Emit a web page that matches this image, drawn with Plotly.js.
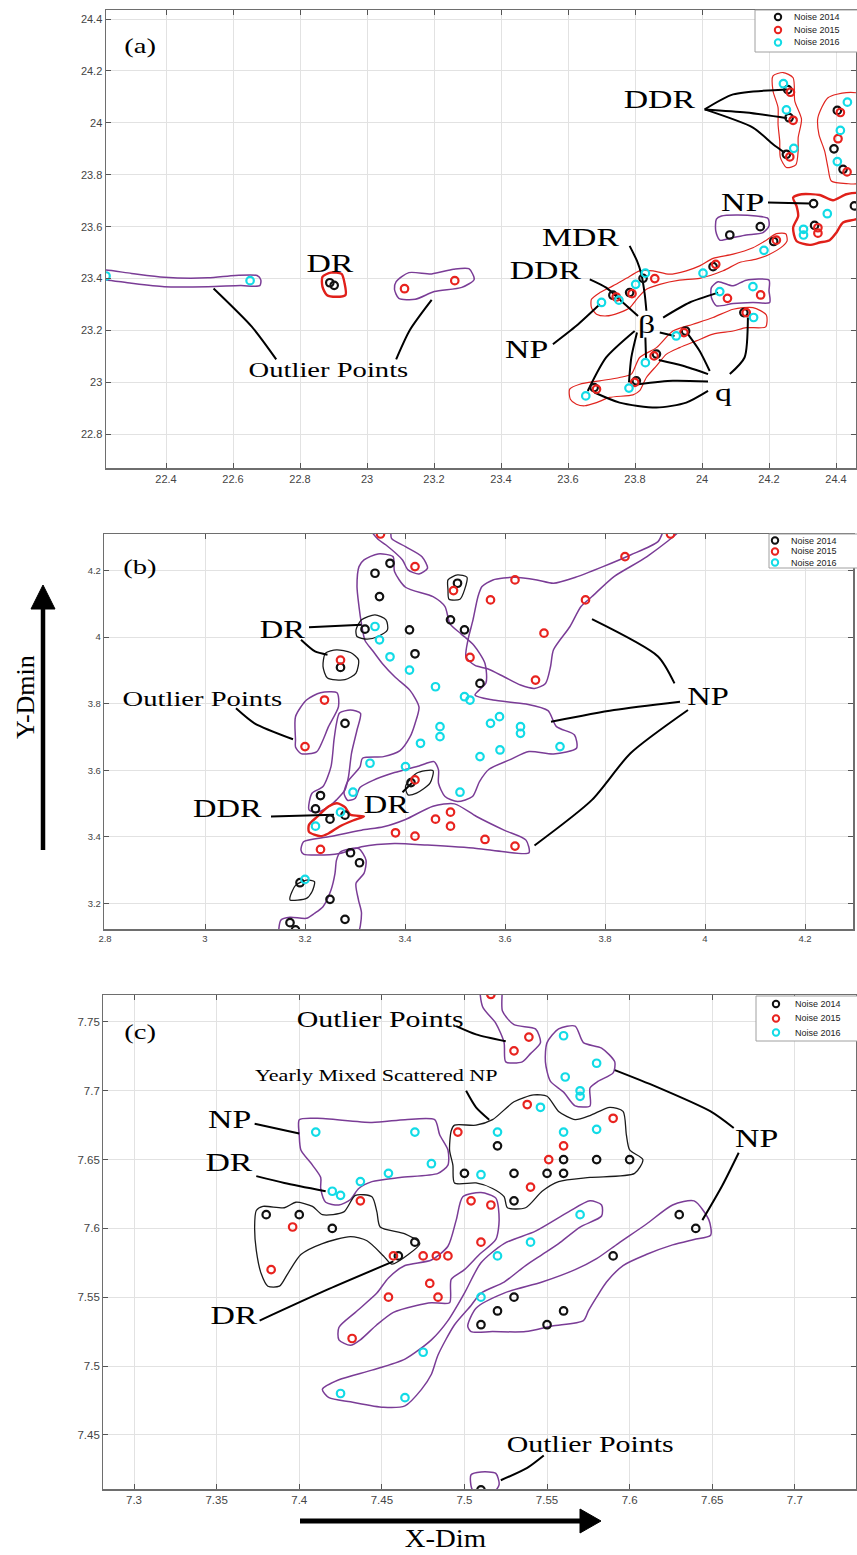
<!DOCTYPE html>
<html><head><meta charset="utf-8">
<script src="https://cdn.plot.ly/plotly-3.0.1.min.js"></script>
<style>html,body{margin:0;padding:0;background:#fff;overflow:hidden}#chart{width:857px;height:1555px}</style>
</head><body><div id="chart"></div>
<script>
const seriesNames = ['Noise 2014','Noise 2015','Noise 2016'];

// ---------- panel (a) ----------
const a2014 = [[22.889,23.384],[22.902,23.374],[24.256,24.128],[24.26,24.02],[24.252,23.879],[24.404,24.048],[24.394,23.90],[24.421,23.821],[24.333,23.689],[24.455,23.68],[24.336,23.605],[24.083,23.568],[24.174,23.60],[24.214,23.543],[24.033,23.446],[23.824,23.401],[23.784,23.346],[23.734,23.336],[24.125,23.269],[23.951,23.198],[23.864,23.109],[23.804,23.006],[23.678,22.98]];
const a2015 = [[23.112,23.361],[23.262,23.392],[24.264,24.118],[24.272,24.01],[24.262,23.869],[24.413,24.04],[24.406,23.939],[24.433,23.811],[24.346,23.596],[24.346,23.575],[24.222,23.548],[24.041,23.455],[23.859,23.40],[23.791,23.342],[23.744,23.329],[24.076,23.324],[24.175,23.337],[24.132,23.269],[23.946,23.192],[23.857,23.102],[23.799,23.0],[23.685,22.974]];
const a2016 = [[22.221,23.41],[22.651,23.392],[24.243,24.151],[24.252,24.05],[24.274,23.902],[24.434,24.08],[24.413,23.971],[24.404,23.851],[24.374,23.65],[24.303,23.59],[24.303,23.568],[24.185,23.509],[24.003,23.421],[23.831,23.421],[23.802,23.378],[23.752,23.317],[23.70,23.308],[24.053,23.35],[24.152,23.369],[24.154,23.25],[23.923,23.179],[23.831,23.076],[23.782,22.978],[23.653,22.948]];
const aPurple = [
 [[22.19,23.433],[22.221,23.433],[22.297,23.42],[22.395,23.405],[22.525,23.403],[22.607,23.412],[22.672,23.412],[22.683,23.395],[22.68,23.373],[22.623,23.373],[22.525,23.369],[22.395,23.369],[22.297,23.382],[22.221,23.395],[22.19,23.395]],
 [[23.087,23.388],[23.125,23.423],[23.193,23.418],[23.258,23.436],[23.304,23.438],[23.32,23.397],[23.283,23.366],[23.201,23.35],[23.144,23.32],[23.095,23.324],[23.082,23.359]],
 [[24.043,23.629],[24.058,23.641],[24.102,23.645],[24.162,23.641],[24.197,23.632],[24.2,23.603],[24.182,23.577],[24.132,23.568],[24.093,23.558],[24.053,23.548],[24.041,23.584]],
 [[24.028,23.365],[24.048,23.388],[24.093,23.372],[24.132,23.394],[24.2,23.394],[24.2,23.353],[24.202,23.308],[24.152,23.308],[24.093,23.304],[24.043,23.295],[24.028,23.327]]
];
const aRed = [
 [[24.212,24.181],[24.242,24.194],[24.272,24.174],[24.277,24.084],[24.297,24.014],[24.287,23.943],[24.287,23.892],[24.28,23.838],[24.252,23.828],[24.234,23.866],[24.232,23.93],[24.227,23.995],[24.227,24.059],[24.212,24.123]],
 [[24.346,24.02],[24.376,24.097],[24.431,24.117],[24.47,24.11],[24.47,23.77],[24.431,23.766],[24.386,23.776],[24.376,23.828],[24.366,23.892],[24.349,23.956]],
 [[23.67,23.32],[23.695,23.346],[23.734,23.372],[23.774,23.401],[23.814,23.43],[23.854,23.43],[23.903,23.417],[23.953,23.43],[23.993,23.449],[24.033,23.478],[24.093,23.494],[24.152,23.519],[24.192,23.548],[24.222,23.573],[24.25,23.573],[24.254,23.545],[24.242,23.526],[24.202,23.494],[24.162,23.475],[24.112,23.462],[24.063,23.43],[23.993,23.401],[23.933,23.394],[23.874,23.378],[23.834,23.359],[23.809,23.327],[23.784,23.288],[23.754,23.269],[23.714,23.256],[23.685,23.263],[23.67,23.288]],
 [[23.605,22.974],[23.635,22.993],[23.695,23.006],[23.754,23.019],[23.789,23.032],[23.814,23.096],[23.864,23.134],[23.913,23.198],[23.973,23.224],[24.033,23.25],[24.093,23.282],[24.152,23.288],[24.192,23.26],[24.19,23.214],[24.132,23.211],[24.093,23.198],[24.033,23.186],[23.983,23.16],[23.933,23.134],[23.894,23.109],[23.864,23.064],[23.834,23.019],[23.814,22.968],[23.794,22.952],[23.724,22.942],[23.685,22.922],[23.65,22.91],[23.625,22.916],[23.607,22.935]]
];
const aRedThick = [
 [[22.867,23.407],[22.892,23.423],[22.924,23.418],[22.933,23.382],[22.936,23.337],[22.908,23.33],[22.88,23.337],[22.867,23.369]],
 [[24.272,23.712],[24.297,23.725],[24.351,23.722],[24.391,23.702],[24.431,23.725],[24.47,23.727],[24.47,23.635],[24.421,23.616],[24.401,23.577],[24.381,23.548],[24.351,23.539],[24.321,23.53],[24.282,23.545],[24.272,23.596],[24.287,23.641],[24.282,23.68]]
];
const aBlack = [];
const aLeaders = [
 [[24.008,24.052],[24.093,24.11],[24.254,24.129]],
 [[24.008,24.052],[24.132,24.04],[24.254,24.018]],
 [[24.008,24.052],[24.152,23.982],[24.212,23.918],[24.247,23.885]],
 [[24.197,23.693],[24.321,23.689]],
 [[23.784,23.526],[23.806,23.468],[23.819,23.417],[23.829,23.34],[23.834,23.276]],
 [[23.665,23.397],[23.714,23.365],[23.764,23.308],[23.809,23.256]],
 [[23.555,23.147],[23.625,23.218],[23.695,23.301]],
 [[23.884,23.25],[23.963,23.308],[24.048,23.346]],
 [[23.799,23.198],[23.714,23.096],[23.659,22.967]],
 [[23.806,23.192],[23.789,23.096],[23.782,23.0]],
 [[23.831,23.173],[23.833,23.089]],
 [[23.874,23.192],[23.918,23.179]],
 [[24.018,22.967],[23.953,22.922],[23.864,22.903],[23.754,22.922],[23.679,22.961]],
 [[24.018,23.003],[23.913,23.006],[23.809,22.993]],
 [[24.018,23.032],[23.943,23.064],[23.871,23.086]],
 [[24.023,23.044],[23.993,23.121],[23.958,23.186]],
 [[24.083,23.032],[24.127,23.096],[24.137,23.25]],
 [[22.729,23.089],[22.656,23.215],[22.542,23.362]],
 [[23.087,23.089],[23.128,23.202],[23.193,23.318]]
];
const aLabels = [['(a)',22.322,24.3],['DDR',23.874,24.091],['NP',24.122,23.693],['MDR',23.64,23.558],['DDR',23.535,23.43],['NP',23.476,23.128],['β',23.834,23.224],['q',24.063,22.961],['DR',22.892,23.459],['Outlier Points',22.884,23.048]];

// ---------- panel (b) ----------
const b2014 = [[3.37,4.222],[3.34,4.192],[3.349,4.122],[3.505,4.162],[3.491,4.052],[3.519,4.022],[3.32,4.024],[3.409,4.022],[3.42,3.95],[3.271,3.909],[3.55,3.861],[3.28,3.741],[3.412,3.563],[3.231,3.524],[3.221,3.484],[3.28,3.465],[3.25,3.453],[3.291,3.352],[3.309,3.322],[3.19,3.262],[3.25,3.212],[3.28,3.152],[3.17,3.142],[3.181,3.12]];
const b2015 = [[3.351,4.31],[3.42,4.212],[3.497,4.14],[3.571,4.112],[3.62,4.172],[3.761,4.112],[3.84,4.242],[3.931,4.31],[3.678,4.012],[3.661,3.871],[3.53,3.939],[3.271,3.931],[3.239,3.811],[3.2,3.671],[3.42,3.571],[3.491,3.474],[3.461,3.453],[3.491,3.432],[3.381,3.412],[3.42,3.402],[3.56,3.392],[3.62,3.372],[3.231,3.362]];
const b2016 = [[3.34,4.032],[3.349,3.992],[3.37,3.941],[3.409,3.901],[3.461,3.851],[3.519,3.821],[3.53,3.811],[3.589,3.761],[3.571,3.741],[3.631,3.731],[3.631,3.711],[3.47,3.731],[3.47,3.701],[3.431,3.681],[3.71,3.671],[3.59,3.661],[3.55,3.641],[3.33,3.621],[3.401,3.611],[3.296,3.534],[3.51,3.534],[3.271,3.474],[3.221,3.432],[3.2,3.272]];
const bPurple = [
 [[3.329,4.33],[3.346,4.294],[3.362,4.277],[3.395,4.232],[3.406,4.202],[3.428,4.19],[3.445,4.207],[3.434,4.242],[3.401,4.272],[3.373,4.297],[3.37,4.33]],
 [[3.955,4.33],[3.884,4.242],[3.818,4.182],[3.774,4.122],[3.752,4.092],[3.73,4.032],[3.697,3.962],[3.691,3.911],[3.681,3.861],[3.659,3.846],[3.631,3.856],[3.598,3.881],[3.565,3.905],[3.54,3.915],[3.522,3.94],[3.526,3.992],[3.536,4.052],[3.546,4.122],[3.554,4.152],[3.576,4.172],[3.62,4.18],[3.664,4.172],[3.697,4.162],[3.741,4.18],[3.796,4.212],[3.851,4.247],[3.906,4.287],[3.922,4.33]],
 [[3.308,4.212],[3.318,4.232],[3.346,4.25],[3.376,4.242],[3.379,4.197],[3.401,4.15],[3.456,4.122],[3.48,4.092],[3.49,4.04],[3.512,4.01],[3.538,3.975],[3.56,3.921],[3.562,3.863],[3.54,3.826],[3.576,3.811],[3.642,3.799],[3.686,3.779],[3.703,3.731],[3.739,3.706],[3.743,3.666],[3.697,3.649],[3.648,3.656],[3.609,3.631],[3.568,3.603],[3.549,3.566],[3.535,3.521],[3.505,3.506],[3.48,3.521],[3.467,3.561],[3.467,3.601],[3.458,3.626],[3.428,3.613],[3.379,3.593],[3.335,3.569],[3.31,3.548],[3.3,3.515],[3.285,3.51],[3.278,3.531],[3.285,3.565],[3.31,3.61],[3.315,3.636],[3.357,3.641],[3.39,3.659],[3.41,3.7],[3.42,3.74],[3.428,3.79],[3.41,3.84],[3.38,3.88],[3.355,3.92],[3.335,3.96],[3.32,3.99],[3.313,4.04],[3.308,4.092],[3.304,4.152]],
 [[3.181,3.691],[3.181,3.761],[3.203,3.811],[3.231,3.833],[3.264,3.833],[3.267,3.791],[3.247,3.731],[3.236,3.691],[3.223,3.655],[3.192,3.65],[3.181,3.67]],
 [[3.269,3.772],[3.291,3.781],[3.311,3.771],[3.304,3.721],[3.293,3.651],[3.287,3.581],[3.28,3.541],[3.263,3.511],[3.252,3.496],[3.225,3.474],[3.208,3.481],[3.214,3.531],[3.236,3.551],[3.252,3.611],[3.258,3.691],[3.263,3.741]],
 [[3.192,3.36],[3.197,3.385],[3.247,3.4],[3.313,3.42],[3.357,3.43],[3.401,3.452],[3.456,3.492],[3.499,3.499],[3.543,3.461],[3.598,3.42],[3.642,3.39],[3.648,3.352],[3.598,3.355],[3.543,3.365],[3.445,3.375],[3.379,3.38],[3.313,3.37],[3.269,3.35],[3.225,3.345],[3.197,3.348]],
 [[3.271,3.355],[3.307,3.365],[3.322,3.33],[3.318,3.29],[3.302,3.26],[3.307,3.21],[3.313,3.17],[3.302,3.1],[3.15,3.1],[3.152,3.15],[3.17,3.158],[3.203,3.155],[3.219,3.17],[3.236,3.19],[3.252,3.24],[3.26,3.29],[3.263,3.33]]
];
const bRed = [];
const bRedThick = [
 [[3.208,3.436],[3.225,3.461],[3.247,3.491],[3.264,3.501],[3.28,3.489],[3.291,3.466],[3.318,3.461],[3.296,3.449],[3.269,3.431],[3.247,3.41],[3.231,3.402],[3.208,3.415]]
];
const bBlack = [
 [[3.486,4.172],[3.505,4.187],[3.524,4.18],[3.519,4.142],[3.51,4.114],[3.488,4.114],[3.486,4.142]],
 [[3.302,4.022],[3.313,4.052],[3.34,4.067],[3.362,4.052],[3.365,4.022],[3.346,4.002],[3.324,3.994],[3.304,4.002]],
 [[3.241,3.952],[3.263,3.962],[3.291,3.954],[3.307,3.932],[3.302,3.892],[3.28,3.872],[3.245,3.877],[3.236,3.912]],
 [[3.401,3.551],[3.423,3.591],[3.456,3.599],[3.45,3.561],[3.423,3.531],[3.406,3.526]],
 [[3.17,3.219],[3.181,3.254],[3.203,3.27],[3.219,3.265],[3.214,3.235],[3.203,3.215],[3.17,3.21]]
];
const bLeaders = [
 [[3.208,4.03],[3.313,4.037]],
 [[3.192,3.992],[3.22,3.957],[3.245,3.947]],
 [[3.062,3.786],[3.099,3.741],[3.176,3.693]],
 [[3.939,3.861],[3.906,3.942],[3.774,4.054]],
 [[3.95,3.806],[3.818,3.781],[3.692,3.746]],
 [[3.966,3.781],[3.851,3.651],[3.774,3.511],[3.659,3.374]],
 [[3.132,3.461],[3.258,3.466]],
 [[3.395,3.534],[3.414,3.562]]
];
const bLabels = [['(b)',2.87,4.212],['DR',3.154,4.022],['Outlier Points',2.994,3.816],['NP',4.005,3.821],['DDR',3.044,3.486],['DR',3.362,3.496]];

// ---------- panel (c) ----------
const c2014 = [[7.52,7.66],[7.56,7.65],[7.58,7.65],[7.60,7.65],[7.50,7.64],[7.53,7.64],[7.55,7.64],[7.56,7.64],[7.53,7.62],[7.38,7.61],[7.40,7.61],[7.42,7.60],[7.47,7.59],[7.46,7.58],[7.63,7.61],[7.64,7.60],[7.59,7.58],[7.53,7.55],[7.52,7.54],[7.56,7.54],[7.51,7.53],[7.55,7.53],[7.51,7.41]];
const c2015 = [[7.516,7.77],[7.539,7.739],[7.53,7.729],[7.538,7.69],[7.59,7.68],[7.496,7.67],[7.56,7.66],[7.551,7.65],[7.54,7.63],[7.437,7.62],[7.504,7.62],[7.516,7.617],[7.396,7.601],[7.51,7.59],[7.457,7.58],[7.475,7.58],[7.483,7.58],[7.49,7.58],[7.479,7.56],[7.454,7.55],[7.484,7.55],[7.383,7.57],[7.432,7.52]];
const c2016 = [[7.56,7.74],[7.58,7.72],[7.561,7.71],[7.57,7.70],[7.57,7.696],[7.546,7.688],[7.41,7.67],[7.47,7.67],[7.52,7.67],[7.56,7.67],[7.58,7.672],[7.48,7.647],[7.454,7.64],[7.51,7.639],[7.437,7.634],[7.42,7.627],[7.425,7.624],[7.57,7.61],[7.54,7.59],[7.52,7.58],[7.51,7.55],[7.475,7.51],[7.425,7.48],[7.464,7.477]];
const cPurple = [
 [[7.51,7.78],[7.522,7.78],[7.523,7.758],[7.53,7.748],[7.543,7.745],[7.546,7.735],[7.54,7.727],[7.535,7.721],[7.525,7.721],[7.524,7.735],[7.519,7.749],[7.511,7.761]],
 [[7.55,7.735],[7.557,7.745],[7.567,7.747],[7.572,7.735],[7.583,7.731],[7.591,7.721],[7.59,7.713],[7.581,7.707],[7.576,7.702],[7.576,7.689],[7.567,7.689],[7.56,7.699],[7.552,7.707],[7.549,7.721]],
 [[7.40,7.679],[7.411,7.68],[7.444,7.677],[7.464,7.679],[7.482,7.679],[7.485,7.668],[7.49,7.657],[7.49,7.646],[7.484,7.64],[7.461,7.637],[7.444,7.634],[7.436,7.629],[7.431,7.621],[7.424,7.617],[7.416,7.619],[7.413,7.629],[7.413,7.637],[7.408,7.646],[7.401,7.657],[7.40,7.668]],
 [[7.424,7.528],[7.434,7.539],[7.447,7.553],[7.454,7.564],[7.464,7.573],[7.48,7.577],[7.49,7.587],[7.495,7.606],[7.499,7.623],[7.51,7.626],[7.519,7.622],[7.521,7.606],[7.519,7.592],[7.509,7.581],[7.50,7.57],[7.492,7.563],[7.491,7.546],[7.48,7.546],[7.471,7.544],[7.457,7.539],[7.447,7.53],[7.437,7.519],[7.431,7.515],[7.424,7.519]],
 [[7.414,7.483],[7.424,7.49],[7.444,7.497],[7.464,7.505],[7.48,7.519],[7.49,7.533],[7.50,7.553],[7.51,7.575],[7.524,7.589],[7.543,7.598],[7.563,7.612],[7.576,7.62],[7.583,7.617],[7.583,7.609],[7.57,7.601],[7.557,7.589],[7.547,7.581],[7.537,7.573],[7.524,7.561],[7.51,7.553],[7.504,7.544],[7.494,7.53],[7.484,7.508],[7.48,7.494],[7.474,7.483],[7.464,7.471],[7.451,7.47],[7.431,7.474],[7.418,7.477]],
 [[7.502,7.529],[7.507,7.542],[7.524,7.553],[7.547,7.561],[7.567,7.57],[7.58,7.578],[7.593,7.589],[7.61,7.603],[7.626,7.617],[7.639,7.62],[7.648,7.606],[7.649,7.595],[7.639,7.592],[7.626,7.588],[7.61,7.581],[7.596,7.573],[7.586,7.561],[7.58,7.55],[7.575,7.54],[7.572,7.533],[7.553,7.529],[7.537,7.525],[7.517,7.525],[7.504,7.525]],
 [[7.504,7.421],[7.51,7.423],[7.519,7.422],[7.521,7.414],[7.519,7.41],[7.505,7.41]]
];
const cRed = [];
const cRedThick = [];
const cBlack = [
 [[7.492,7.671],[7.494,7.675],[7.507,7.675],[7.517,7.679],[7.53,7.692],[7.542,7.697],[7.55,7.696],[7.557,7.685],[7.567,7.679],[7.576,7.682],[7.588,7.688],[7.596,7.685],[7.598,7.668],[7.60,7.657],[7.608,7.65],[7.603,7.64],[7.576,7.637],[7.557,7.634],[7.547,7.627],[7.537,7.615],[7.526,7.615],[7.524,7.623],[7.517,7.629],[7.507,7.633],[7.494,7.633],[7.493,7.646],[7.491,7.657]],
 [[7.374,7.613],[7.378,7.616],[7.391,7.615],[7.398,7.619],[7.408,7.616],[7.414,7.61],[7.427,7.612],[7.434,7.624],[7.444,7.623],[7.447,7.612],[7.449,7.601],[7.464,7.596],[7.473,7.589],[7.466,7.581],[7.456,7.574],[7.451,7.58],[7.441,7.591],[7.431,7.594],[7.414,7.589],[7.401,7.581],[7.393,7.567],[7.388,7.558],[7.381,7.558],[7.377,7.567],[7.374,7.584],[7.373,7.601]]
];
const cLeaders = [
 [[7.495,7.747],[7.507,7.741],[7.525,7.736]],
 [[7.501,7.70],[7.507,7.688],[7.515,7.679]],
 [[7.373,7.676],[7.40,7.669]],
 [[7.374,7.638],[7.391,7.633],[7.416,7.627]],
 [[7.376,7.533],[7.418,7.556],[7.457,7.576]],
 [[7.663,7.673],[7.649,7.685],[7.616,7.703],[7.591,7.715]],
 [[7.666,7.655],[7.656,7.631],[7.644,7.606]],
 [[7.548,7.435],[7.538,7.426],[7.522,7.417]]
];
const cLabels = [['(c)',7.3034,7.743],['Outlier Points',7.449,7.752],['Yearly Mixed Scattered NP',7.447,7.711],['NP',7.358,7.679],['DR',7.358,7.648],['DR',7.361,7.537],['NP',7.677,7.665],['Outlier Points',7.576,7.443]];

// ---------- layout geometry (pixels) ----------
const W = 857, H = 1555;
const px = v => v / W, py = v => 1 - v / H;
const panels = [
 {k:'', xr:[22.22,24.4597], yr:[22.669,24.435], xpx:[105.7,856], ypx:[10,468.3], t0x:22.4, dx:0.2, t0y:22.8, dy:0.2, fs:11,
  pts:[a2014,a2015,a2016], purple:aPurple, red:aRed, redThick:aRedThick, black:aBlack, leaders:aLeaders, labels:aLabels,
  big:26, small:22, leg:{x0:755, y0:10, y1:52, mx:778, tx:792, rows:[17,30,42.5]}},
 {k:'2', xr:[2.798,4.2966], yr:[3.122,4.31], xpx:[104,853.3], ypx:[534,929.3], t0x:2.8, dx:0.2, t0y:3.2, dy:0.2, fs:9.5,
  pts:[b2014,b2015,b2016], purple:bPurple, red:bRed, redThick:bRedThick, black:bBlack, leaders:bLeaders, labels:bLabels,
  big:25, small:22, leg:{x0:769, y0:534, y1:568, mx:775, tx:789, rows:[540.5,551.5,562.5]}},
 {k:'3', xr:[7.2814,7.737], yr:[7.4104,7.7696], xpx:[103.3,856], ypx:[995,1489.3], t0x:7.3, dx:0.05, t0y:7.45, dy:0.05, fs:11.5,
  pts:[c2014,c2015,c2016], purple:cPurple, red:cRed, redThick:cRedThick, black:cBlack, leaders:cLeaders, labels:cLabels,
  big:26, small:23, leg:{x0:756, y0:996, y1:1041, mx:776, tx:793, rows:[1004,1018.5,1032.5]}}
];
const colors = ['#111111','#e8231f','#12dbe6'];
const traces = [], annotations = [], shapes = [];
const layout = { width: W, height: H, autosize:false, margin:{l:0,r:0,t:0,b:0},
  paper_bgcolor:'#fff', plot_bgcolor:'#fff', showlegend:false };
function closed(p){ return p.concat([p[0]]); }
function addLines(list, xa, ya, color, width, close){
  list.forEach(p => {
    const q = close ? closed(p) : p;
    traces.push({type:'scatter', mode:'lines', x:q.map(v=>v[0]), y:q.map(v=>v[1]), xaxis:xa, yaxis:ya,
      line:{color:color, width:width, shape:'spline', smoothing:0.7}, hoverinfo:'skip', showlegend:false});
  });
}
const serif = 'Liberation Serif, Times New Roman, serif';
const sans = 'Liberation Sans, Arial, sans-serif';
panels.forEach(P => {
  const xa = 'x'+P.k, ya = 'y'+P.k;
  addLines(P.purple, xa, ya, '#7a3c96', 1.5, true);
  addLines(P.red, xa, ya, '#e0251f', 1.2, true);
  addLines(P.redThick, xa, ya, '#e0201a', 2.4, true);
  addLines(P.black, xa, ya, '#1a1a1a', 1.3, true);
  addLines(P.leaders, xa, ya, '#000', 2, false);
  P.pts.forEach((s, i) => {
    traces.push({type:'scatter', mode:'markers', name:seriesNames[i], x:s.map(v=>v[0]), y:s.map(v=>v[1]),
      xaxis:xa, yaxis:ya, showlegend:false,
      marker:{symbol:'circle-open', size:7.5, color:colors[i], line:{width:2.2, color:colors[i]}}});
  });
  const axBase = {showgrid:true, gridcolor:'#e2e2e2', gridwidth:1, zeroline:false, showline:true, linecolor:'#6e6e6e', linewidth:1.2,
    mirror:'ticks', ticks:'inside', ticklen:5, tickcolor:'#555', tickfont:{family:sans, size:P.fs, color:'#444'}};
  layout['xaxis'+P.k] = Object.assign({}, axBase, {domain:[px(P.xpx[0]), px(P.xpx[1])], range:P.xr, tick0:P.t0x, dtick:P.dx, anchor:ya});
  layout['yaxis'+P.k] = Object.assign({}, axBase, {domain:[py(P.ypx[1]), py(P.ypx[0])], range:P.yr, tick0:P.t0y, dtick:P.dy, anchor:xa});
  P.labels.forEach(L => {
    const t = L[0];
    const size = t.startsWith('(') ? 22 : t === 'Outlier Points' ? P.small : t.startsWith('Yearly') ? 17 : P.big;
    annotations.push({xref:xa, yref:ya, x:L[1], y:L[2], text:t, showarrow:false, xanchor:'center', yanchor:'middle',
      font:{family:serif, size:size, color:'#000'}});
  });
  const G = P.leg;
  shapes.push({type:'rect', xref:'paper', yref:'paper', x0:px(G.x0), x1:px(W+2), y0:py(G.y1), y1:py(G.y0),
    fillcolor:'#fff', line:{color:'#a0a0a0', width:1}, layer:'above'});
  G.rows.forEach((r, i) => {
    shapes.push({type:'circle', xref:'paper', yref:'paper', x0:px(G.mx-3.2), x1:px(G.mx+3.2), y0:py(r+3.2), y1:py(r-3.2),
      line:{color:colors[i], width:2}, fillcolor:'rgba(0,0,0,0)', layer:'above'});
    annotations.push({xref:'paper', yref:'paper', x:px(G.tx), y:py(r), text:seriesNames[i], showarrow:false,
      xanchor:'left', yanchor:'middle', font:{family:sans, size:9, color:'#222'}});
  });
});
annotations.push({xref:'paper', yref:'paper', x:px(25), y:py(697), text:'Y-Dmin', textangle:-90, showarrow:false,
  xanchor:'center', yanchor:'middle', font:{family:serif, size:26, color:'#000'}});
annotations.push({xref:'paper', yref:'paper', x:px(446), y:py(1538), text:'X-Dim', showarrow:false,
  xanchor:'center', yanchor:'middle', font:{family:serif, size:25, color:'#000'}});
shapes.push(
  {type:'line', xref:'paper', yref:'paper', x0:px(43), x1:px(43), y0:py(850), y1:py(606), line:{color:'#000', width:4.5}},
  {type:'path', xref:'paper', yref:'paper', path:`M ${px(43)} ${py(585)} L ${px(31)} ${py(609)} L ${px(55)} ${py(609)} Z`, fillcolor:'#000', line:{color:'#000', width:1}},
  {type:'line', xref:'paper', yref:'paper', x0:px(300), x1:px(583), y0:py(1521), y1:py(1521), line:{color:'#000', width:5}},
  {type:'path', xref:'paper', yref:'paper', path:`M ${px(601)} ${py(1521)} L ${px(580)} ${py(1509)} L ${px(580)} ${py(1533)} Z`, fillcolor:'#000', line:{color:'#000', width:1}}
);
layout.annotations = annotations;
layout.shapes = shapes;
Plotly.newPlot('chart', traces, layout, {displayModeBar:false, staticPlot:true}).then(() => {
  // the original figure's serif labels are stretched horizontally
  document.querySelectorAll('.annotation-text').forEach(t => {
    const s = t.textContent;
    if (s === 'Y-Dmin' || s.startsWith('Noise')) return;
    t.style.transformBox = 'fill-box';
    t.style.transformOrigin = 'center';
    t.style.transform = s === 'X-Dim' ? 'scaleX(1.15)' : 'scaleX(1.3)';
  });
});
</script>
</body></html>
